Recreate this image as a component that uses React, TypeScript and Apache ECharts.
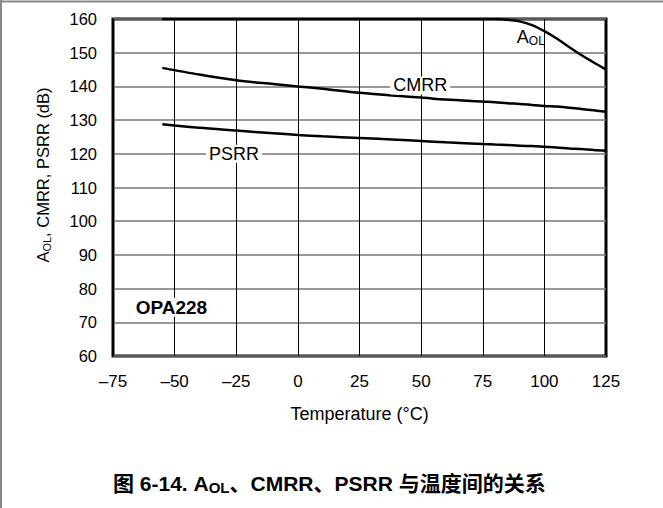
import React, { useEffect, useRef } from "react";
import * as echarts from "echarts";

const temps = [-55, -40, -25, -10, 0, 10, 25, 40, 50, 60, 75, 80, 85, 90, 95, 100, 105, 110, 115, 120, 125];
const aol = [160, 160, 160, 160, 160, 160, 160, 160, 160, 160, 160, 160, 159.8, 159.3, 158.2, 156.4, 154.2, 151.7, 149.3, 147.1, 145.0];
const cmrr = [145.5, 143.5, 141.8, 140.7, 140.0, 139.3, 138.1, 137.2, 136.7, 136.1, 135.5, 135.3, 135.0, 134.8, 134.5, 134.2, 134.0, 133.7, 133.3, 132.9, 132.5];
const psrr = [128.8, 127.7, 126.9, 126.1, 125.6, 125.2, 124.7, 124.2, 123.8, 123.4, 122.9, 122.75, 122.6, 122.4, 122.3, 122.1, 121.9, 121.6, 121.4, 121.1, 120.9];

const xTicks = [-75, -50, -25, 0, 25, 50, 75, 100, 125];
const yTicks = [60, 70, 80, 90, 100, 110, 120, 130, 140, 150, 160];

const FONT = "Liberation Sans, Arial, sans-serif";
const CJK = "Liberation Sans, Noto Sans CJK SC, sans-serif";

function pairs(ys: number[]) {
  return temps.map((t, i) => [t, ys[i]]);
}

function labelPoint(coord: number[], text: string, opts: any = {}) {
  return {
    coord,
    symbol: "rect",
    symbolSize: 0,
    label: {
      show: true,
      position: "inside",
      formatter: text,
      color: "#000",
      fontFamily: FONT,
      fontSize: 18,
      backgroundColor: "#fff",
      padding: [0, 3],
      ...opts,
    },
  };
}

export default function App() {
  const ref = useRef<HTMLDivElement>(null);
  useEffect(() => {
    if (!ref.current) return;
    const chart = echarts.init(ref.current, null, { renderer: "svg" });
    const lineStyle = { color: "#000", width: 2.5 };
    chart.setOption({
      animation: false,
      backgroundColor: "#fff",
      grid: {
        left: 113,
        top: 19,
        width: 493,
        height: 337,
        show: true,
        borderColor: "#000",
        borderWidth: 3,
        containLabel: false,
      },
      xAxis: {
        type: "value",
        min: -75,
        max: 125,
        interval: 25,
        name: "Temperature (°C)",
        nameLocation: "middle",
        nameGap: 49,
        nameTextStyle: { color: "#000", fontFamily: FONT, fontSize: 18 },
        axisLine: { show: false },
        axisTick: { show: false },
        axisLabel: {
          color: "#000",
          fontFamily: FONT,
          fontSize: 17,
          margin: 17,
          formatter: (v: number) => (xTicks.includes(v) ? String(v).replace("-", "–") : ""),
        },
        splitLine: { show: true, lineStyle: { color: "#000", width: 1 } },
      },
      yAxis: {
        type: "value",
        min: 60,
        max: 160,
        interval: 10,
        axisLine: { show: false },
        axisTick: { show: false },
        axisLabel: {
          color: "#000",
          fontFamily: FONT,
          fontSize: 16.5,
          margin: 16,
          formatter: (v: number) => (yTicks.includes(v) ? String(v) : ""),
        },
        splitLine: { show: true, lineStyle: { color: "#777", width: 1.5 } },
      },
      graphic: [
        {
          type: "line",
          shape: { x1: 0, y1: 1.5, x2: 663, y2: 1.5 },
          style: { stroke: "#888", lineWidth: 2 },
        },
        {
          type: "line",
          shape: { x1: 1, y1: 0, x2: 1, y2: 508 },
          style: { stroke: "#888", lineWidth: 2 },
        },
        {
          type: "text",
          x: 43,
          y: 175,
          rotation: Math.PI / 2,
          style: {
            text: "{n|A}{s|OL}{n|, CMRR, PSRR (dB)}",
            align: "center",
            verticalAlign: "middle",
            rich: {
              n: { fontFamily: FONT, fontSize: 16.5, fill: "#000" },
              s: { fontFamily: FONT, fontSize: 11, fill: "#000", padding: [7, 0, 0, 0] },
            },
          },
        },
        {
          type: "text",
          left: 113,
          top: 473,
          style: {
            text: "{b|图 6-14. A}{sb|OL}{b|、CMRR、PSRR 与温度间的关系}",
            rich: {
              b: { fontFamily: CJK, fontSize: 21, fontWeight: "bold", fill: "#000" },
              sb: { fontFamily: CJK, fontSize: 15, fontWeight: "bold", fill: "#000", padding: [9, 0, 0, 0] },
            },
          },
        },
      ],
      series: [
        {
          type: "line",
          data: pairs(aol),
          smooth: 0.3,
          symbol: "none",
          lineStyle,
          markPoint: {
            data: [
              labelPoint([94.5, 154.6], "{n|A}{s|OL}", {
                backgroundColor: "transparent",
                rich: {
                  n: { fontFamily: FONT, fontSize: 18, color: "#000" },
                  s: { fontFamily: FONT, fontSize: 12, color: "#000", padding: [8, 0, 0, 0] },
                },
              }),
            ],
          },
        },
        {
          type: "line",
          data: pairs(cmrr),
          smooth: 0.3,
          symbol: "none",
          lineStyle,
          markPoint: { data: [labelPoint([49.6, 140.3], "CMRR")] },
        },
        {
          type: "line",
          data: pairs(psrr),
          smooth: 0.3,
          symbol: "none",
          lineStyle,
          markPoint: {
            data: [
              labelPoint([-25.9, 120.0], "PSRR"),
              labelPoint([-51.3, 74.5], "OPA228", { fontWeight: "bold", fontSize: 19 }),
            ],
          },
        },
      ],
    });
    return () => chart.dispose();
  }, []);
  return <div ref={ref} style={{ position: "fixed", left: 0, top: 0, width: 663, height: 508 }} />;
}
